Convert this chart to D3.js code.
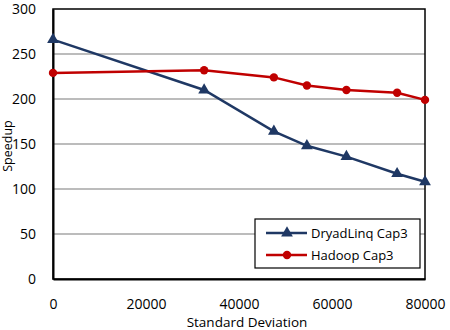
<!DOCTYPE html>
<html>
<head>
<meta charset="utf-8">
<script src="https://cdn.jsdelivr.net/npm/d3@7"></script>
<style>
  body { margin: 0; background: #fff; }
  text { font-family: "Open Sans", "Liberation Sans", sans-serif; fill: #000; }
</style>
</head>
<body>
<svg id="chart" width="450" height="330"></svg>
<script>
// data
const stdDev = [0, 32500, 47500, 54600, 63100, 74000, 80000];
const dryadSpeedup = [266, 210, 164, 148, 136, 117, 108];
const hadoopSpeedup = [229, 232, 224, 215, 210, 207, 199];
const seriesNames = ["DryadLinq Cap3", "Hadoop Cap3"];
const xTicks = [0, 20000, 40000, 60000, 80000];
const yTicks = [0, 50, 100, 150, 200, 250, 300];

const margin = { top: 9, right: 25, bottom: 51, left: 53 };
const svg = d3.select('#chart');
const width = +svg.attr('width');
const height = +svg.attr('height');
const innerW = width - margin.left - margin.right;
const innerH = height - margin.top - margin.bottom;

const g = svg.append('g')
    .attr('transform', `translate(${margin.left},${margin.top})`);

const xScale = d3.scaleLinear().domain([0, 80000]).range([0, innerW]);
const yScale = d3.scaleLinear().domain([0, 300]).range([innerH, 0]);

// gridlines
g.selectAll('.grid')
    .data(yTicks.filter(d => d > 0 && d < 300))
    .join('line')
    .attr('x1', 0).attr('x2', innerW)
    .attr('y1', d => yScale(d)).attr('y2', d => yScale(d))
    .attr('stroke', '#a6a6a6')
    .attr('stroke-width', 1.3);

// plot frame
g.append('rect')
    .attr('width', innerW).attr('height', innerH)
    .attr('fill', 'none').attr('stroke', '#000').attr('stroke-width', 1.5);

// axes (labels only, no tick marks)
const xAxis = g.append('g')
    .attr('transform', `translate(0,${innerH})`)
    .call(d3.axisBottom(xScale).tickValues(xTicks).tickSize(0).tickPadding(20).tickFormat(d3.format('d')));
xAxis.select('.domain').attr('stroke', '#000').attr('stroke-width', 2);
xAxis.selectAll('text').style('font-size', '14px').attr('font-family', null);

const yAxis = g.append('g')
    .call(d3.axisLeft(yScale).tickValues(yTicks).tickSize(0).tickPadding(17));
yAxis.select('.domain').attr('stroke', '#000').attr('stroke-width', 2);
yAxis.selectAll('text').style('font-size', '14px').attr('font-family', null);

// axis titles
svg.append('text')
    .attr('x', 247).attr('y', 327)
    .attr('text-anchor', 'middle')
    .style('font-size', '13.5px')
    .text('Standard Deviation');

svg.append('text')
    .attr('transform', 'translate(12,146) rotate(-90)')
    .attr('text-anchor', 'middle')
    .style('font-size', '12.5px')
    .text('Speedup');

const line = d3.line()
    .x(d => xScale(d[0]))
    .y(d => yScale(d[1]));

const dryad = stdDev.map((x, i) => [x, dryadSpeedup[i]]);
const hadoop = stdDev.map((x, i) => [x, hadoopSpeedup[i]]);

const tri = d3.symbol().type(d3.symbolTriangle).size(60);

g.append('path').datum(dryad)
    .attr('d', line).attr('fill', 'none')
    .attr('stroke', '#1f3864').attr('stroke-width', 2.5);
g.selectAll('.dryadPt').data(dryad).join('path')
    .attr('d', tri)
    .attr('transform', d => `translate(${xScale(d[0])},${yScale(d[1])})`)
    .attr('fill', '#1f3864');

g.append('path').datum(hadoop)
    .attr('d', line).attr('fill', 'none')
    .attr('stroke', '#c00000').attr('stroke-width', 2.5);
g.selectAll('.hadoopPt').data(hadoop).join('circle')
    .attr('cx', d => xScale(d[0])).attr('cy', d => yScale(d[1]))
    .attr('r', 4.2)
    .attr('fill', '#c00000');

// legend
const legend = svg.append('g').attr('transform', 'translate(255,219)');
legend.append('rect')
    .attr('width', 165).attr('height', 49)
    .attr('fill', '#fff').attr('stroke', '#000').attr('stroke-width', 1.2);

const colors = ['#1f3864', '#c00000'];
seriesNames.forEach((name, i) => {
    const row = legend.append('g').attr('transform', `translate(0,${14 + i * 22})`);
    row.append('line')
        .attr('x1', 11).attr('x2', 52).attr('y1', 0).attr('y2', 0)
        .attr('stroke', colors[i]).attr('stroke-width', 2.5);
    if (i === 0) {
        row.append('path').attr('d', tri).attr('transform', 'translate(32,0)').attr('fill', colors[i]);
    } else {
        row.append('circle').attr('cx', 32).attr('cy', 0).attr('r', 4.2).attr('fill', colors[i]);
    }
    row.append('text')
        .attr('x', 56).attr('y', 0).attr('dy', '0.35em')
        .style('font-size', '13px')
        .text(name);
});
</script>
</body>
</html>
